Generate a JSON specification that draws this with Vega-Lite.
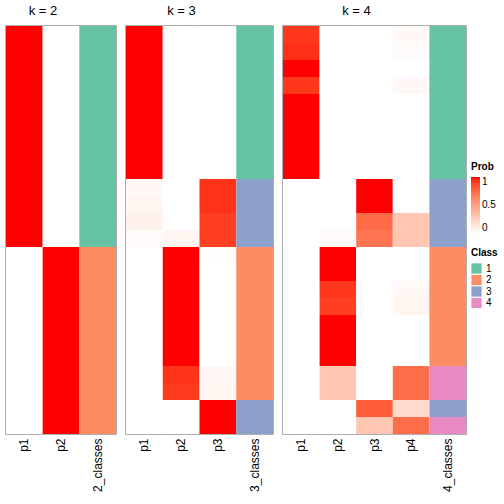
{
  "$schema": "https://vega.github.io/schema/vega-lite/v6.json",
  "padding": {"left": 5, "top": 4, "right": 0, "bottom": 0},
  "background": "white",
  "config": {
    "view": {"stroke": "#000000", "strokeOpacity": 0.42, "strokeWidth": 1.5},
    "font": "Liberation Sans",
    "concat": {"spacing": 8},
    "title": {"fontSize": 13, "fontWeight": "normal", "dx": -18, "offset": 8, "color": "black"},
    "axis": {"domain": false, "ticks": false, "labelAngle": -90, "labelFontSize": 12, "labelPadding": 4, "labelColor": "black", "title": null},
    "legend": {"titleFontSize": 10, "labelFontSize": 10, "titleFontWeight": "bold", "titleColor": "black", "labelColor": "black"}
  },
  "resolve": {"scale": {"color": "shared", "fill": "shared"}, "legend": {"color": "shared", "fill": "shared"}},
  "datasets": {
    "k2": [
      {"row": 1, "p1": 1, "p2": 0, "cls": "1"},
      {"row": 2, "p1": 1, "p2": 0, "cls": "1"},
      {"row": 3, "p1": 1, "p2": 0, "cls": "1"},
      {"row": 4, "p1": 1, "p2": 0, "cls": "1"},
      {"row": 5, "p1": 1, "p2": 0, "cls": "1"},
      {"row": 6, "p1": 1, "p2": 0, "cls": "1"},
      {"row": 7, "p1": 1, "p2": 0, "cls": "1"},
      {"row": 8, "p1": 1, "p2": 0, "cls": "1"},
      {"row": 9, "p1": 1, "p2": 0, "cls": "1"},
      {"row": 10, "p1": 1, "p2": 0, "cls": "1"},
      {"row": 11, "p1": 1, "p2": 0, "cls": "1"},
      {"row": 12, "p1": 1, "p2": 0, "cls": "1"},
      {"row": 13, "p1": 1, "p2": 0, "cls": "1"},
      {"row": 14, "p1": 0, "p2": 1, "cls": "2"},
      {"row": 15, "p1": 0, "p2": 1, "cls": "2"},
      {"row": 16, "p1": 0, "p2": 1, "cls": "2"},
      {"row": 17, "p1": 0, "p2": 1, "cls": "2"},
      {"row": 18, "p1": 0, "p2": 1, "cls": "2"},
      {"row": 19, "p1": 0, "p2": 1, "cls": "2"},
      {"row": 20, "p1": 0, "p2": 1, "cls": "2"},
      {"row": 21, "p1": 0, "p2": 1, "cls": "2"},
      {"row": 22, "p1": 0, "p2": 1, "cls": "2"},
      {"row": 23, "p1": 0, "p2": 1, "cls": "2"},
      {"row": 24, "p1": 0, "p2": 1, "cls": "2"}
    ],
    "k3": [
      {"row": 1, "p1": 1, "p2": 0, "p3": 0, "cls": "1"},
      {"row": 2, "p1": 1, "p2": 0, "p3": 0, "cls": "1"},
      {"row": 3, "p1": 1, "p2": 0, "p3": 0, "cls": "1"},
      {"row": 4, "p1": 1, "p2": 0, "p3": 0, "cls": "1"},
      {"row": 5, "p1": 1, "p2": 0, "p3": 0, "cls": "1"},
      {"row": 6, "p1": 1, "p2": 0, "p3": 0, "cls": "1"},
      {"row": 7, "p1": 1, "p2": 0, "p3": 0, "cls": "1"},
      {"row": 8, "p1": 1, "p2": 0, "p3": 0, "cls": "1"},
      {"row": 9, "p1": 1, "p2": 0, "p3": 0, "cls": "1"},
      {"row": 10, "p1": 0.04, "p2": 0, "p3": 0.93, "cls": "3"},
      {"row": 11, "p1": 0.05, "p2": 0, "p3": 0.93, "cls": "3"},
      {"row": 12, "p1": 0.07, "p2": 0, "p3": 0.9, "cls": "3"},
      {"row": 13, "p1": 0.02, "p2": 0.05, "p3": 0.9, "cls": "3"},
      {"row": 14, "p1": 0, "p2": 1, "p3": 0.01, "cls": "2"},
      {"row": 15, "p1": 0, "p2": 1, "p3": 0, "cls": "2"},
      {"row": 16, "p1": 0, "p2": 1, "p3": 0, "cls": "2"},
      {"row": 17, "p1": 0, "p2": 1, "p3": 0, "cls": "2"},
      {"row": 18, "p1": 0, "p2": 1, "p3": 0, "cls": "2"},
      {"row": 19, "p1": 0, "p2": 1, "p3": 0, "cls": "2"},
      {"row": 20, "p1": 0, "p2": 1, "p3": 0, "cls": "2"},
      {"row": 21, "p1": 0, "p2": 0.93, "p3": 0.04, "cls": "2"},
      {"row": 22, "p1": 0, "p2": 0.91, "p3": 0.05, "cls": "2"},
      {"row": 23, "p1": 0, "p2": 0, "p3": 1, "cls": "3"},
      {"row": 24, "p1": 0, "p2": 0, "p3": 1, "cls": "3"}
    ],
    "k4": [
      {"row": 1, "p1": 0.92, "p2": 0, "p3": 0, "p4": 0.04, "cls": "1"},
      {"row": 2, "p1": 0.94, "p2": 0, "p3": 0, "p4": 0.02, "cls": "1"},
      {"row": 3, "p1": 1, "p2": 0, "p3": 0, "p4": 0, "cls": "1"},
      {"row": 4, "p1": 0.92, "p2": 0, "p3": 0, "p4": 0.04, "cls": "1"},
      {"row": 5, "p1": 1, "p2": 0, "p3": 0, "p4": 0, "cls": "1"},
      {"row": 6, "p1": 1, "p2": 0, "p3": 0, "p4": 0, "cls": "1"},
      {"row": 7, "p1": 1, "p2": 0, "p3": 0, "p4": 0, "cls": "1"},
      {"row": 8, "p1": 1, "p2": 0, "p3": 0, "p4": 0, "cls": "1"},
      {"row": 9, "p1": 1, "p2": 0, "p3": 0, "p4": 0, "cls": "1"},
      {"row": 10, "p1": 0, "p2": 0, "p3": 1, "p4": 0, "cls": "3"},
      {"row": 11, "p1": 0, "p2": 0, "p3": 1, "p4": 0, "cls": "3"},
      {"row": 12, "p1": 0, "p2": 0, "p3": 0.74, "p4": 0.3, "cls": "3"},
      {"row": 13, "p1": 0, "p2": 0.02, "p3": 0.7, "p4": 0.3, "cls": "3"},
      {"row": 14, "p1": 0, "p2": 1, "p3": 0, "p4": 0, "cls": "2"},
      {"row": 15, "p1": 0, "p2": 1, "p3": 0, "p4": 0, "cls": "2"},
      {"row": 16, "p1": 0, "p2": 0.92, "p3": 0, "p4": 0.04, "cls": "2"},
      {"row": 17, "p1": 0, "p2": 0.9, "p3": 0, "p4": 0.05, "cls": "2"},
      {"row": 18, "p1": 0, "p2": 1, "p3": 0, "p4": 0, "cls": "2"},
      {"row": 19, "p1": 0, "p2": 1, "p3": 0, "p4": 0, "cls": "2"},
      {"row": 20, "p1": 0, "p2": 1, "p3": 0, "p4": 0, "cls": "2"},
      {"row": 21, "p1": 0, "p2": 0.3, "p3": 0, "p4": 0.73, "cls": "4"},
      {"row": 22, "p1": 0, "p2": 0.3, "p3": 0, "p4": 0.73, "cls": "4"},
      {"row": 23, "p1": 0, "p2": 0, "p3": 0.8, "p4": 0.2, "cls": "3"},
      {"row": 24, "p1": 0, "p2": 0, "p3": 0.3, "p4": 0.73, "cls": "4"}
    ]
  },
  "hconcat": [
    {
      "width": 110, "height": 408,
      "title": {"text": "k = 2", "fontWeight": "normal"},
      "data": {"name": "k2"},
      "layer": [
        {
          "transform": [{"fold": ["p1", "p2"], "as": ["col", "p"]}],
          "mark": {"type": "rect"},
          "encoding": {
            "x": {"field": "col", "type": "nominal", "scale": {"domain": ["p1", "p2", "2_classes"], "paddingInner": 0, "paddingOuter": 0}},
            "y": {"field": "row", "type": "ordinal", "axis": null, "scale": {"paddingInner": 0, "paddingOuter": 0}},
            "fill": {"field": "p", "type": "quantitative", "scale": {"domain": [0, 1], "range": ["#ffffff", "#ff0000"], "interpolate": "lab"},
              "legend": {"title": "Prob", "orient": "none", "legendX": 465, "legendY": 136, "values": [0, 0.5, 1], "format": "~g", "gradientLength": 56, "gradientThickness": 9, "gradientStrokeWidth": 0}}
          }
        },
        {
          "mark": {"type": "rect"},
          "encoding": {
            "x": {"datum": "2_classes", "type": "nominal"},
            "y": {"field": "row", "type": "ordinal", "axis": null},
            "color": {"field": "cls", "type": "nominal", "scale": {"domain": ["1", "2", "3", "4"], "range": ["#66C2A5", "#FC8D62", "#8DA0CB", "#E78AC3"]},
              "legend": {"title": "Class", "orient": "none", "legendX": 465, "legendY": 222, "symbolType": "square", "symbolSize": 105, "symbolStrokeWidth": 0, "rowPadding": 0.5}}
          }
        }
      ]
    },
    {
      "width": 147, "height": 408,
      "title": {"text": "k = 3", "fontWeight": "normal"},
      "data": {"name": "k3"},
      "layer": [
        {
          "transform": [{"fold": ["p1", "p2", "p3"], "as": ["col", "p"]}],
          "mark": {"type": "rect"},
          "encoding": {
            "x": {"field": "col", "type": "nominal", "scale": {"domain": ["p1", "p2", "p3", "3_classes"], "paddingInner": 0, "paddingOuter": 0}},
            "y": {"field": "row", "type": "ordinal", "axis": null, "scale": {"paddingInner": 0, "paddingOuter": 0}},
            "fill": {"field": "p", "type": "quantitative"}
          }
        },
        {
          "mark": {"type": "rect"},
          "encoding": {
            "x": {"datum": "3_classes", "type": "nominal"},
            "y": {"field": "row", "type": "ordinal", "axis": null},
            "color": {"field": "cls", "type": "nominal"}
          }
        }
      ]
    },
    {
      "width": 183, "height": 408,
      "title": {"text": "k = 4", "fontWeight": "normal"},
      "data": {"name": "k4"},
      "layer": [
        {
          "transform": [{"fold": ["p1", "p2", "p3", "p4"], "as": ["col", "p"]}],
          "mark": {"type": "rect"},
          "encoding": {
            "x": {"field": "col", "type": "nominal", "scale": {"domain": ["p1", "p2", "p3", "p4", "4_classes"], "paddingInner": 0, "paddingOuter": 0}},
            "y": {"field": "row", "type": "ordinal", "axis": null, "scale": {"paddingInner": 0, "paddingOuter": 0}},
            "fill": {"field": "p", "type": "quantitative"}
          }
        },
        {
          "mark": {"type": "rect"},
          "encoding": {
            "x": {"datum": "4_classes", "type": "nominal"},
            "y": {"field": "row", "type": "ordinal", "axis": null},
            "color": {"field": "cls", "type": "nominal"}
          }
        }
      ]
    }
  ]
}
